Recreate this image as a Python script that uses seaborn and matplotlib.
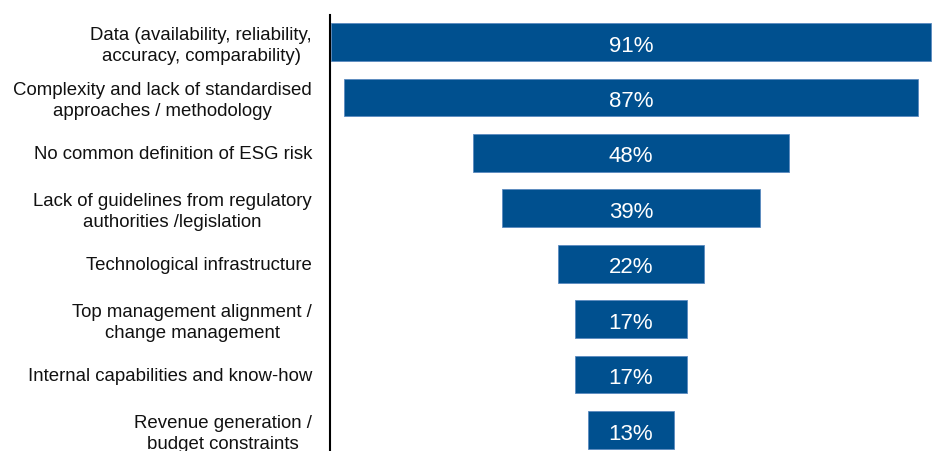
import matplotlib
matplotlib.use("Agg")
import matplotlib.pyplot as plt
import seaborn as sns
import pandas as pd

categories = [
    "Data (availability, reliability,\naccuracy, comparability)",
    "Complexity and lack of standardised\napproaches / methodology",
    "No common definition of ESG risk",
    "Lack of guidelines from regulatory\nauthorities /legislation",
    "Technological infrastructure",
    "Top management alignment /\nchange management",
    "Internal capabilities and know-how",
    "Revenue generation /\nbudget constraints",
]
values = [91, 87, 48, 39, 22, 17, 17, 13]
labels = ["91%", "87%", "48%", "39%", "22%", "17%", "17%", "13%"]

sns.set_theme(style="white")
plt.rcParams['font.family'] = ['Liberation Sans', 'DejaVu Sans']

df = pd.DataFrame({"cat": categories, "val": values})

fig = plt.figure(figsize=(9.34, 4.51), dpi=100)
ax = fig.add_axes([330 / 934, 0, 602 / 934, 436 / 451])

color = "#00508F"
sns.barplot(data=df, x="val", y="cat", orient="h", color=color, ax=ax,
            width=0.68, saturation=1, edgecolor="#5a8ac0", linewidth=0.6)
# center bars to form a funnel
for patch, v in zip(ax.patches, values):
    patch.set_x(-v / 2)
    patch.set_width(v)

for i, (v, lab) in enumerate(zip(values, labels)):
    ax.text(0, i + 0.03, lab, color="white", ha="center", va="center_baseline",
            fontsize=16)

ax.set_xlim(-45.65, 45.65)
ax.set_ylim(7.38, -0.487)
ax.set_xlabel("")
ax.set_ylabel("")
ax.set_xticks([])
ax.tick_params(axis="y", length=0, pad=13, labelsize=13.4, colors="#111111")
for lab in ax.get_yticklabels():
    lab.set_horizontalalignment("right")
    lab.set_multialignment("center")
    lab.set_linespacing(1.3)
for s in ["top", "right", "bottom"]:
    ax.spines[s].set_visible(False)
ax.spines["left"].set_color("black")
ax.spines["left"].set_linewidth(1.5)

fig.savefig("out.png", dpi=100, facecolor="white")
